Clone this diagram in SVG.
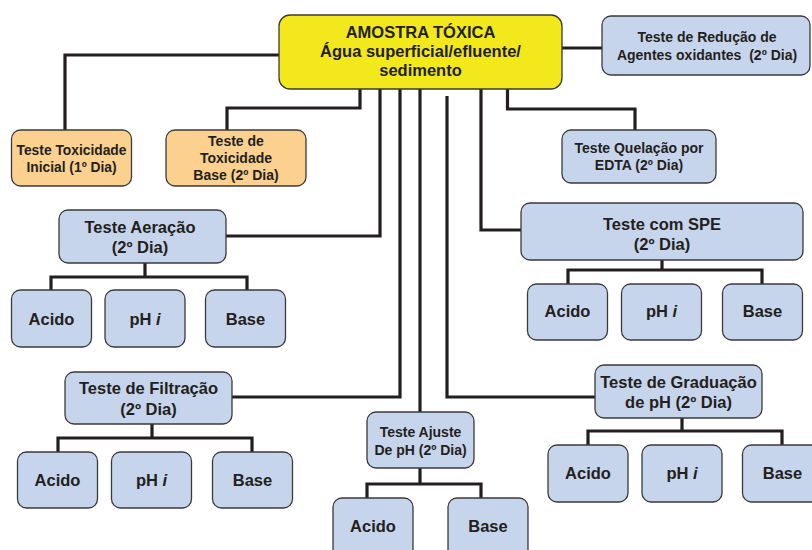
<svg xmlns="http://www.w3.org/2000/svg" width="812" height="550" viewBox="0 0 812 550">
<style>
.b{stroke:#3a3a3a;stroke-width:1.3}
.y{fill:#f2e81c}
.o{fill:#fcd18f}
.u{fill:#c7d5ec}
text{font-family:"Liberation Sans",Arial,sans-serif;font-weight:bold;fill:#231f20;text-anchor:middle}
.t16{font-size:16.5px}
.t14{font-size:14px}
.t13{font-size:13.8px}
#connectors path{fill:none;stroke:#231f20;stroke-width:3.2;stroke-linejoin:miter}
</style>
<rect width="812" height="550" fill="#ffffff"/>
<g id="connectors">
<path d="M279,55 H65 V130"/>
<path d="M360,89 V108 H227 V130"/>
<path d="M562,48 H602"/>
<path d="M380,89 V236 H226"/>
<path d="M400,89 V397 H232"/>
<path d="M420,89 V412"/>
<path d="M447,96 V397 H595"/>
<path d="M481,89 V230 H521"/>
<path d="M507.5,89 V109 H635 V130"/>
<path d="M145,263 V277 M51,290 V277 H247 V290"/>
<path d="M662,260 V270 M568,284 V270 H762 V284"/>
<path d="M152,424 V438 M58,452 V438 H252 V452"/>
<path d="M420,468 V484 M367,498 V484 H481 V498"/>
<path d="M682,418 V431 M588,445 V431 H782 V445"/>
</g>
<g id="main">
<rect class="b y" x="279" y="15" width="283" height="74" rx="11"/>
<text class="t16" x="420.5" y="38">AMOSTRA TÓXICA</text>
<text class="t16" x="420.5" y="57">Água superficial/efluente/</text>
<text class="t16" x="420.5" y="76">sedimento</text>
</g>
<g id="inicial">
<rect class="b o" x="11.5" y="130" width="120" height="56" rx="9"/>
<text class="t13" x="71.5" y="155">Teste Toxicidade</text>
<text class="t13" x="71.5" y="172">Inicial (1º Dia)</text>
</g>
<g id="toxbase">
<rect class="b o" x="166" y="130" width="140" height="56" rx="9"/>
<text class="t14" x="236" y="146">Teste de</text>
<text class="t14" x="236" y="163">Toxicidade</text>
<text class="t14" x="236" y="180">Base (2º Dia)</text>
</g>
<g id="reducao">
<rect class="b u" x="602" y="16" width="208" height="59" rx="9"/>
<text class="t14" x="707" y="42">Teste de Redução de</text>
<text class="t14" x="707" y="60" xml:space="preserve">Agentes oxidantes  (2º Dia)</text>
</g>
<g id="quelacao">
<rect class="b u" x="562" y="130" width="154" height="53" rx="9"/>
<text class="t14" x="639" y="153">Teste Quelação por</text>
<text class="t14" x="639" y="170">EDTA (2º Dia)</text>
</g>
<g id="aeracao">
<rect class="b u" x="59" y="210" width="167" height="53" rx="9"/>
<text class="t16" x="140" y="233">Teste Aeração</text>
<text class="t16" x="140" y="253">(2º Dia)</text>
</g>
<g id="aer-acido">
<rect class="b u" x="11.5" y="290" width="80" height="57" rx="9"/>
<text class="t16" x="51.5" y="325">Acido</text>
</g>
<g id="aer-ph">
<rect class="b u" x="105" y="290" width="80" height="57" rx="9"/>
<text class="t16" x="145" y="325">pH <tspan font-style="italic">i</tspan></text>
</g>
<g id="aer-base">
<rect class="b u" x="205.5" y="290" width="80" height="57" rx="9"/>
<text class="t16" x="245.5" y="325">Base</text>
</g>
<g id="spe">
<rect class="b u" x="521" y="203" width="282" height="57" rx="9"/>
<text class="t16" x="662" y="230">Teste com SPE</text>
<text class="t16" x="662" y="250">(2º Dia)</text>
</g>
<g id="spe-acido">
<rect class="b u" x="527.5" y="284" width="80" height="56" rx="9"/>
<text class="t16" x="567.5" y="317">Acido</text>
</g>
<g id="spe-ph">
<rect class="b u" x="621.5" y="284" width="80" height="56" rx="9"/>
<text class="t16" x="661.5" y="317">pH <tspan font-style="italic">i</tspan></text>
</g>
<g id="spe-base">
<rect class="b u" x="722.5" y="284" width="80" height="56" rx="9"/>
<text class="t16" x="762.5" y="317">Base</text>
</g>
<g id="filtracao">
<rect class="b u" x="65" y="372" width="167" height="52" rx="9"/>
<text class="t16" x="148.5" y="394">Teste de Filtração</text>
<text class="t16" x="148.5" y="415">(2º Dia)</text>
</g>
<g id="fil-acido">
<rect class="b u" x="17.5" y="452" width="80" height="56" rx="9"/>
<text class="t16" x="57.5" y="486">Acido</text>
</g>
<g id="fil-ph">
<rect class="b u" x="111.5" y="452" width="80" height="56" rx="9"/>
<text class="t16" x="151.5" y="486">pH <tspan font-style="italic">i</tspan></text>
</g>
<g id="fil-base">
<rect class="b u" x="212.5" y="452" width="80" height="56" rx="9"/>
<text class="t16" x="252.5" y="486">Base</text>
</g>
<g id="ajuste">
<rect class="b u" x="367" y="412" width="107" height="56" rx="9"/>
<text class="t14" x="420.5" y="437">Teste Ajuste</text>
<text class="t14" x="420.5" y="455">De pH (2º Dia)</text>
</g>
<g id="aju-acido">
<rect class="b u" x="333" y="498" width="80" height="60" rx="9"/>
<text class="t16" x="373" y="532">Acido</text>
</g>
<g id="aju-base">
<rect class="b u" x="448" y="498" width="80" height="60" rx="9"/>
<text class="t16" x="488" y="532">Base</text>
</g>
<g id="graduacao">
<rect class="b u" x="595" y="365" width="167" height="53" rx="9"/>
<text class="t16" x="678.5" y="388">Teste de Graduação</text>
<text class="t16" x="678.5" y="408">de pH (2º Dia)</text>
</g>
<g id="gra-acido">
<rect class="b u" x="548" y="445" width="80" height="57" rx="9"/>
<text class="t16" x="588" y="479">Acido</text>
</g>
<g id="gra-ph">
<rect class="b u" x="642" y="445" width="80" height="57" rx="9"/>
<text class="t16" x="682" y="479">pH <tspan font-style="italic">i</tspan></text>
</g>
<g id="gra-base">
<rect class="b u" x="742.5" y="445" width="80" height="57" rx="9"/>
<text class="t16" x="782.5" y="479">Base</text>
</g>
</svg>
